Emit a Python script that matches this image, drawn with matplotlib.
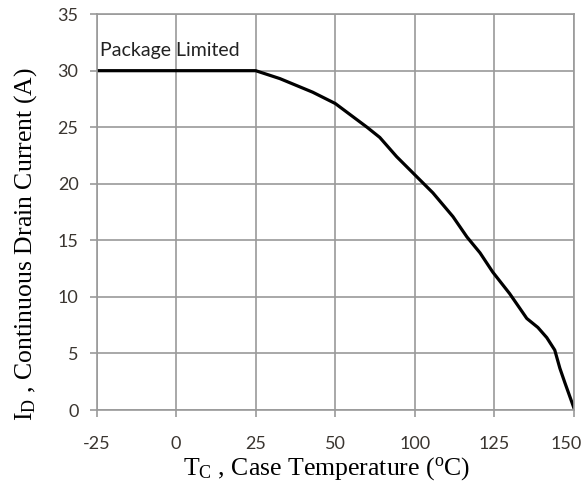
import matplotlib.pyplot as plt
from matplotlib.transforms import ScaledTranslation

# Derating curve: continuous drain current vs case temperature
temp_c = [-25, 0, 25, 32.6, 42.9, 50, 60.0, 64.0, 69.3, 75, 80.7, 87.0, 91.4,
          95.5, 99.5, 104.8, 108, 110.2, 113.7, 116.5, 119, 120.6, 122.2, 125]
drain_a = [30, 30, 30, 29.3, 28.1, 27.1, 25.0, 24.1, 22.4, 20.8, 19.2, 17.1, 15.3,
           13.9, 12.2, 10.3, 9.0, 8.1, 7.3, 6.4, 5.3, 3.7, 2.4, 0.2]

x_ticks = [-25, 0, 25, 50, 75, 100, 125]
x_labels = ["-25", "0", "25", "50", "100", "125", "150"]
y_ticks = [0, 5, 10, 15, 20, 25, 30, 35]

plt.rcParams['mathtext.default'] = 'regular'

fig = plt.figure(figsize=(5.82, 4.87), dpi=100)
ax = fig.add_axes([0.166, 0.158, 0.820, 0.813])

ax.plot(temp_c, drain_a, color="black", linewidth=2.3, solid_joinstyle="round")

ax.set_xlim(-25, 125)
ax.set_ylim(0, 35)
ax.set_xticks(x_ticks)
ax.set_xticklabels(x_labels)
ax.set_yticks(y_ticks)

ax.grid(True, color="#9a9a9a", linewidth=1.2)
ax.set_axisbelow(True)
for sp in ax.spines.values():
    sp.set_color("#9a9a9a")
    sp.set_linewidth(1.2)

ax.tick_params(axis="both", colors="#9a9a9a", length=5, width=1.2,
               labelcolor="#3a3530", labelsize=13)
for lbl in ax.get_xticklabels() + ax.get_yticklabels():
    lbl.set_family("Lato")
ax.tick_params(axis="x", pad=14)
ax.tick_params(axis="y", pad=8)

# pull the last x label in so it stays inside the figure
last = ax.get_xticklabels()[-1]
last.set_transform(last.get_transform() + ScaledTranslation(-8 / 100, 0, fig.dpi_scale_trans))

ax.text(-24, 31.8, "Package Limited", fontsize=14, family="Lato",
        color="#222222", va="center", ha="left")

ax.set_xlabel("T$_C$ , Case Temperature ($^o$C)", family="Liberation Serif",
              fontsize=18.5, labelpad=2)
ax.xaxis.set_label_coords(0.483, -0.115)
ax.set_ylabel("I$_D$ , Continuous Drain Current (A)", family="Liberation Serif",
              fontsize=18.5)
ax.yaxis.set_label_coords(-0.12, 0.42)

fig.savefig("out.png", dpi=100)
